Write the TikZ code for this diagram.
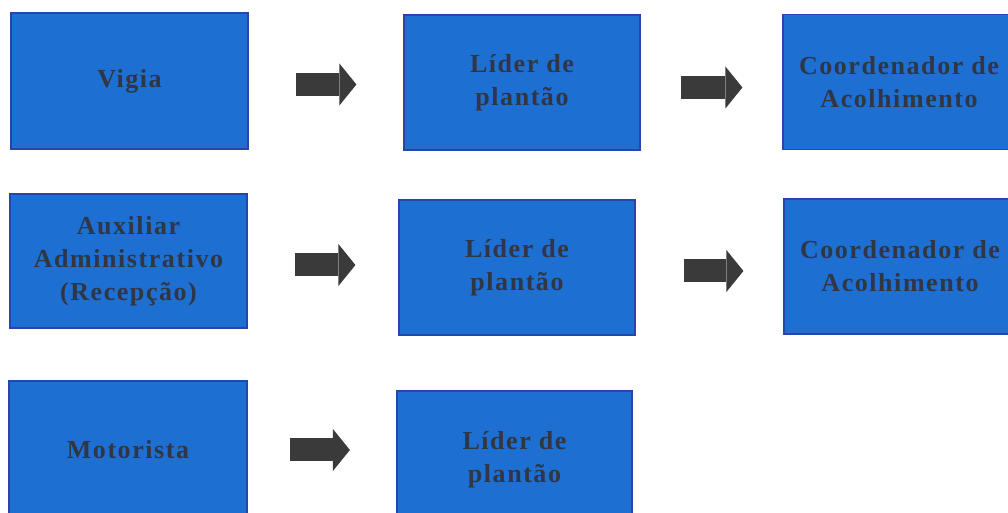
\documentclass[tikz,border=0pt]{standalone}
\usepackage{fontspec}
\setmainfont{Liberation Serif}
\newfontfamily\fontecaixa[LetterSpace=6]{Liberation Serif}
\usetikzlibrary{arrows.meta}
\definecolor{azulcaixa}{RGB}{30,111,210}
\definecolor{bordacaixa}{RGB}{40,70,170}
\definecolor{textocaixa}{RGB}{48,54,68}
\definecolor{cinzaseta}{RGB}{58,58,58}
\tikzset{
	caixa/.style={rectangle, fill=azulcaixa, draw=bordacaixa, line width=1.2pt, minimum width=236pt, minimum height=135pt, inner sep=0pt, align=center, text=textocaixa, font=\fontecaixa\bfseries\fontsize{26}{33}\selectfont},
	seta/.style={draw=cinzaseta, line width=23pt, -{Triangle[width=42pt,length=17pt,line width=0pt]}}
}
\begin{document}
\begin{tikzpicture}[x=1pt,y=1pt]
				\useasboundingbox (0,0) rectangle (1008,513);
				%Primeira linha
				\node[caixa, minimum width=237pt, minimum height=136pt] (vigia) at (129.5,432) {Vigia};
				\node[caixa] (liderA) at (522,430.5) {Líder de\\plantão};
				\node[caixa, minimum width=232pt] (coordA) at (899,431) {Coordenador de\\Acolhimento};
				%Segunda linha
				\node[caixa, minimum width=237pt, minimum height=134pt] (auxiliar) at (128.5,252) {Auxiliar\\Administrativo\\(Recepção)};
				\node[caixa] (liderB) at (517,245.5) {Líder de\\plantão};
				\node[caixa, minimum width=232pt] (coordB) at (900,246.5) {Coordenador de\\Acolhimento};
				%Terceira linha
				\node[caixa, minimum width=238pt, minimum height=138pt] (motorista) at (128,63) {Motorista};
				\node[caixa, minimum width=235pt, minimum height=138pt] (liderC) at (514.5,53) {Líder de\\plantão};
				%Setas
				\draw[seta, shorten <=47pt, shorten >=47pt] ([yshift=-3.5pt]vigia.east) -- ([yshift=-3.5pt]vigia.east -| liderA.west);
				\draw[seta, shorten <=40pt, shorten >=40pt] ([yshift=-5pt]liderA.east) -- ([yshift=-5pt]liderA.east -| coordA.west);
				\draw[seta, shorten <=47pt, shorten >=43pt] ([yshift=-4pt]auxiliar.east) -- ([yshift=-4pt]auxiliar.east -| liderB.west);
				\draw[seta, shorten <=48pt, shorten >=40pt] ([yshift=-3.5pt]liderB.east) -- ([yshift=-3.5pt]liderB.east -| coordB.west);
				\draw[seta, shorten <=42pt, shorten >=46.5pt] (motorista.east) -- (motorista.east -| liderC.west);
			\end{tikzpicture}
\end{document}
